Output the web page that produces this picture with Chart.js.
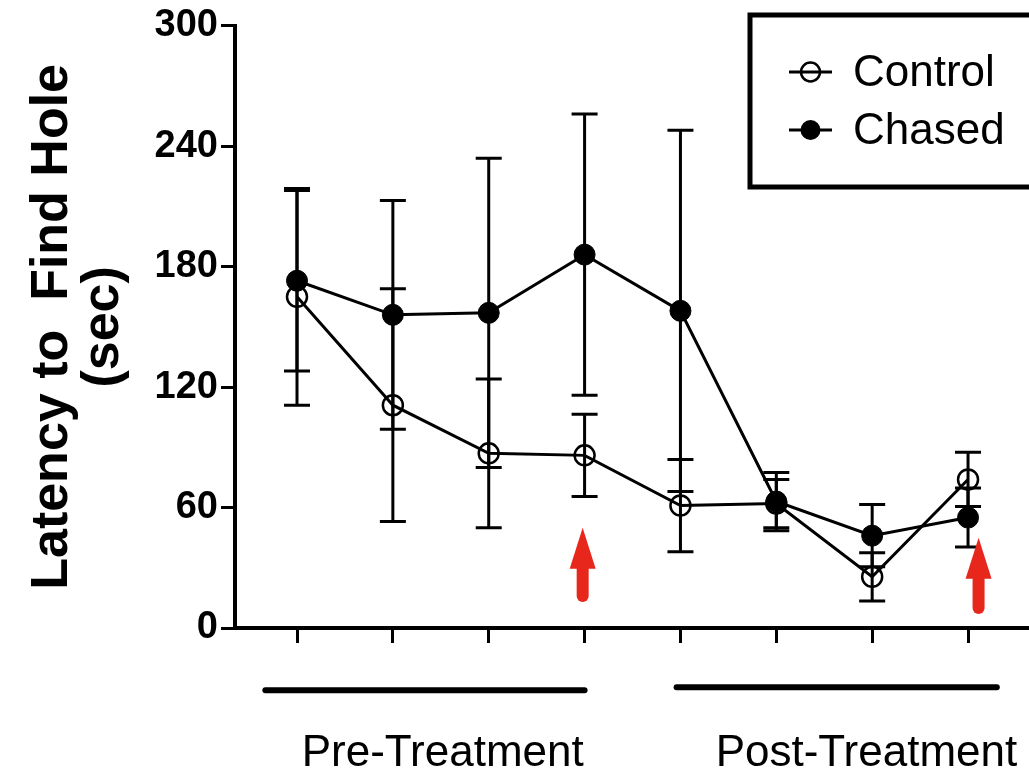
<!DOCTYPE html>
<html>
<head>
<meta charset="utf-8">
<script src="https://cdn.jsdelivr.net/npm/chart.js@4.4.1/dist/chart.umd.min.js"></script>
<style>
html,body{margin:0;padding:0;background:#ffffff;}
#wrap{width:1029px;height:775px;position:relative;}
</style>
</head>
<body>
<div id="wrap"><canvas id="c" width="1029" height="775"></canvas></div>
<script>
// ---- data ----
const sessions = [1, 2, 3, 4, 5, 6, 7, 8];
const controlMean = [165, 111, 87, 86, 61, 62, 25.5, 74];
const controlErr  = [54, 58, 37, 20.5, 23, 12, 12, 13.5];
const chasedMean  = [173, 156, 157, 186, 158, 63, 46, 55];
const chasedErr   = [45, 57, 77, 70, 90, 14.5, 15.5, 14.7];
const yTicks = [0, 60, 120, 180, 240, 300];
const seriesNames = ['Control', 'Chased'];
const yTitle = ['Latency to  Find Hole', '(sec)'];
const phaseLabels = ['Pre-Treatment', 'Post-Treatment'];
const phaseSpans = [[0.67, 4.0], [4.96, 8.3]];
const phaseCenters = [2.52, 6.94];
const arrowMarks = [{x: 3.98, tip: 50, tail: 13}, {x: 8.11, tip: 45, tail: 7}];

const FONT = "'Liberation Sans', Arial, Helvetica, sans-serif";

const errorBars = {
  id: 'errorBars',
  beforeDatasetsDraw(chart) {
    const {ctx, scales: {x, y}} = chart;
    const sets = [[controlMean, controlErr], [chasedMean, chasedErr]];
    ctx.save();
    ctx.strokeStyle = '#000';
    ctx.lineWidth = 3;
    ctx.lineCap = 'butt';
    sets.forEach(([m, e]) => {
      sessions.forEach((s, i) => {
        const px = x.getPixelForValue(s);
        const top = y.getPixelForValue(m[i] + e[i]);
        const bot = y.getPixelForValue(m[i] - e[i]);
        ctx.beginPath();
        ctx.moveTo(px, top); ctx.lineTo(px, bot);
        ctx.moveTo(px - 13, top); ctx.lineTo(px + 13, top);
        ctx.moveTo(px - 13, bot); ctx.lineTo(px + 13, bot);
        ctx.stroke();
      });
    });
    ctx.restore();
  }
};

const annotations = {
  id: 'annotations',
  afterDraw(chart) {
    const {ctx, scales: {x, y}} = chart;
    ctx.save();
    // phase bars and labels
    ctx.strokeStyle = '#000';
    ctx.lineWidth = 6;
    ctx.lineCap = 'round';
    const barY = [y.getPixelForValue(-31), y.getPixelForValue(-29.5)];
    phaseSpans.forEach((sp, i) => {
      ctx.beginPath();
      ctx.moveTo(x.getPixelForValue(sp[0]), barY[i]);
      ctx.lineTo(x.getPixelForValue(sp[1]), barY[i]);
      ctx.stroke();
    });
    ctx.fillStyle = '#000';
    ctx.font = '44px ' + FONT;
    ctx.textAlign = 'center';
    ctx.textBaseline = 'alphabetic';
    phaseLabels.forEach((t, i) => {
      ctx.fillText(t, x.getPixelForValue(phaseCenters[i]), y.getPixelForValue(-68.5));
    });
    // red arrows
    ctx.fillStyle = '#e8271c';
    ctx.strokeStyle = '#e8271c';
    arrowMarks.forEach(a => {
      const px = x.getPixelForValue(a.x);
      const tip = y.getPixelForValue(a.tip);
      const tail = y.getPixelForValue(a.tail);
      const headLen = 41, headHalf = 13;
      ctx.beginPath();
      ctx.moveTo(px, tip);
      ctx.lineTo(px + headHalf, tip + headLen);
      ctx.lineTo(px - headHalf, tip + headLen);
      ctx.closePath();
      ctx.fill();
      ctx.lineWidth = 12;
      ctx.lineCap = 'round';
      ctx.beginPath();
      ctx.moveTo(px, tip + headLen - 2);
      ctx.lineTo(px, tail - 6);
      ctx.stroke();
    });
    // legend box
    ctx.strokeStyle = '#000';
    ctx.lineWidth = 5;
    ctx.lineCap = 'butt';
    ctx.strokeRect(750, 15, 300, 172);
    const rows = [72, 130];
    const order = [1, 0]; // dataset index: Control, Chased
    ctx.font = '44px ' + FONT;
    ctx.textAlign = 'left';
    ctx.textBaseline = 'middle';
    order.forEach((di, r) => {
      const ds = chart.data.datasets[di];
      const cy = rows[r];
      ctx.strokeStyle = '#000';
      ctx.lineWidth = 3;
      ctx.beginPath();
      ctx.moveTo(789, cy); ctx.lineTo(832, cy);
      ctx.stroke();
      ctx.beginPath();
      ctx.arc(810.5, cy, ds.pointRadius - 0.5, 0, Math.PI * 2);
      if (ds.pointBackgroundColor !== 'rgba(0,0,0,0)') {
        ctx.fillStyle = '#000';
        ctx.fill();
      } else {
        ctx.lineWidth = ds.pointBorderWidth;
        ctx.stroke();
      }
      ctx.fillStyle = '#000';
      ctx.fillText(ds.label, 853, cy + 2);
    });
    ctx.restore();
  }
};

new Chart(document.getElementById('c').getContext('2d'), {
  type: 'line',
  data: {
    datasets: [
      {
        label: seriesNames[1],
        data: sessions.map((s, i) => ({x: s, y: chasedMean[i]})),
        borderColor: '#000', borderWidth: 3, tension: 0,
        pointRadius: 10.5, pointBackgroundColor: '#000', pointBorderColor: '#000', pointBorderWidth: 1
      },
      {
        label: seriesNames[0],
        data: sessions.map((s, i) => ({x: s, y: controlMean[i]})),
        borderColor: '#000', borderWidth: 3, tension: 0,
        pointRadius: 10, pointBackgroundColor: 'rgba(0,0,0,0)', pointBorderColor: '#000', pointBorderWidth: 2.5
      }
    ]
  },
  options: {
    responsive: false,
    animation: false,
    devicePixelRatio: 1,
    layout: {autoPadding: false, padding: {top: 25, left: 0, right: 0, bottom: 0}},
    plugins: {legend: {display: false}, tooltip: {enabled: false}},
    scales: {
      x: {
        type: 'linear', min: 0.3532, max: 8.636,
        afterBuildTicks: s => { s.ticks = sessions.map(v => ({value: v})); },
        ticks: {display: false},
        grid: {drawOnChartArea: false, drawTicks: true, tickLength: 15, tickWidth: 3, tickColor: '#000'},
        border: {color: '#000', width: 4},
        afterFit: s => { s.height = 147; }
      },
      y: {
        min: 0, max: 300,
        afterBuildTicks: s => { s.ticks = yTicks.map(v => ({value: v})); },
        ticks: {color: '#000', font: {family: FONT, size: 38, weight: 'bold'}, padding: 3},
        grid: {drawOnChartArea: false, drawTicks: true, tickLength: 14, tickWidth: 3, tickColor: '#000'},
        border: {color: '#000', width: 4},
        title: {
          display: true, text: yTitle, color: '#000',
          font: {family: FONT, size: 52, weight: 'bold', lineHeight: 0.98},
          padding: {top: 27, bottom: 0}
        },
        afterFit: s => { s.width = 235; }
      }
    }
  },
  plugins: [errorBars, annotations]
});
</script>
</body>
</html>
